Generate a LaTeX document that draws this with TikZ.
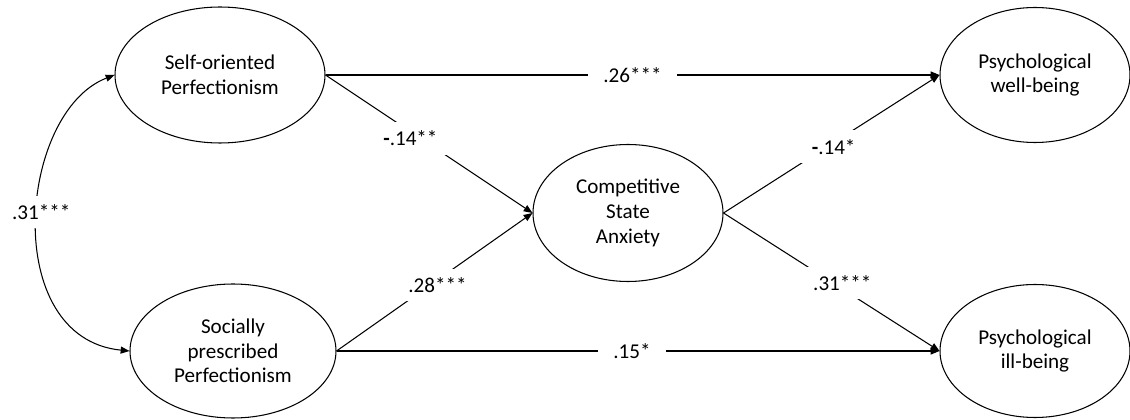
\documentclass[tikz,border=0pt]{standalone}
\usepackage{fontspec}
\setsansfont{Carlito}
\usetikzlibrary{arrows.meta, shapes.geometric}

\begin{document}
\begin{tikzpicture}[
            every node/.style={font=\sffamily\large, align=center},
            latent/.style={ellipse, draw, line width=0.6pt, inner sep=0pt, minimum width=3.8cm, minimum height=2.72cm},
            effect/.style={-{Triangle[length=5pt, width=4pt]}, line width=0.6pt},
            corr/.style={{Triangle[length=5pt, width=4pt]}-{Triangle[length=5pt, width=4pt]}, line width=0.6pt},
            coef/.style={fill=white, inner xsep=9pt, inner ysep=5pt}
        ]
        \useasboundingbox (0,0) rectangle (22.6,8.4);

        \node[latent, minimum width=4.2cm] (SOP) at (4.40, 6.90) {Self-oriented\\Perfectionism};
        \node[latent, minimum width=4.12cm, minimum height=2.68cm] (SPP) at (4.66, 1.38) {Socially\\prescribed\\Perfectionism};
        \node[latent, minimum height=2.74cm] (CSA) at (12.56, 4.14) {Competitive\\State\\Anxiety};
        \node[latent, minimum height=2.7cm] (PWB) at (20.70, 6.90) {Psychological\\well-being};
        \node[latent, minimum height=2.66cm] (PIB) at (20.70, 1.38) {Psychological\\ill-being};

        % direct paths
        \draw[effect] (SOP.east) -- node[coef, pos=0.5] {.26***} (PWB.west);
        \draw[effect] (SPP.east) -- node[coef, pos=0.49] {.15*} (PIB.west);

        % paths through anxiety
        \draw[effect] (SOP.east) -- node[coef, pos=0.41, yshift=-0.14cm] {{\bfseries -}.14**} (CSA.west);
        \draw[effect] (SPP.east) -- node[coef, pos=0.515, yshift=-0.1cm] {.28***} (CSA.west);
        \draw[effect] (CSA.east) -- node[coef, pos=0.51, yshift=-0.08cm] {{\bfseries -}.14*} (PWB.west);
        \draw[effect] (CSA.east) -- node[coef, pos=0.55, yshift=0.12cm] {.31***} (PIB.west);

        % correlation
        \draw[corr] (SOP.west) .. controls +(-1.92,-0.74) and +(-2.6,0.26) .. node[coef, pos=0.5, xshift=0.08cm, yshift=0.2cm] {.31***} (SPP.west);

\end{tikzpicture}
\end{document}
